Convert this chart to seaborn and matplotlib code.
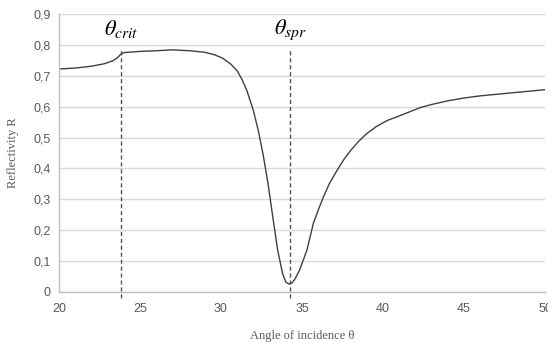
import matplotlib
matplotlib.use("Agg")
import matplotlib.pyplot as plt
import seaborn as sns
import pandas as pd

angle = [20, 21, 22, 22.8, 23.3, 23.6, 23.8, 24.0, 24.5, 25, 26, 27, 28.1, 29,
         29.6, 30.1, 30.6, 31.0, 31.3, 31.6, 32.0, 32.3, 32.6, 32.9, 33.2, 33.5,
         33.8, 34.0, 34.2, 34.4, 34.6, 34.85, 35.3, 35.7, 36.0, 36.3, 36.7, 37.2,
         37.6, 38.0, 38.5, 39.0, 39.6, 40.25, 41.05, 42.3, 43, 44, 45, 46, 47,
         48, 49, 50]
reflectivity = [0.722, 0.725, 0.731, 0.739, 0.748, 0.758, 0.769, 0.775, 0.777,
                0.779, 0.781, 0.784, 0.781, 0.776, 0.768, 0.757, 0.738, 0.716,
                0.688, 0.652, 0.587, 0.523, 0.445, 0.352, 0.242, 0.135, 0.060,
                0.032, 0.026, 0.030, 0.045, 0.071, 0.135, 0.222, 0.265, 0.305,
                0.352, 0.397, 0.430, 0.458, 0.488, 0.513, 0.536, 0.555, 0.571,
                0.597, 0.607, 0.619, 0.628, 0.635, 0.640, 0.645, 0.650, 0.655]
theta_crit = 23.83
theta_spr = 34.26
xticks = [20, 25, 30, 35, 40, 45, 50]
yticks = [0, 0.1, 0.2, 0.3, 0.4, 0.5, 0.6, 0.7, 0.8, 0.9]
ytick_labels = ["0", "0,1", "0,2", "0,3", "0,4", "0,5", "0,6", "0,7", "0,8", "0,9"]

sns.set_theme(style="white")
plt.rcParams["mathtext.fontset"] = "stix"

df = pd.DataFrame({"angle": angle, "R": reflectivity})

fig = plt.figure(figsize=(5.48, 3.42), dpi=100)
ax = fig.add_axes([59 / 548, 50 / 342, (545 - 59) / 548, (292 - 14) / 342])

sns.lineplot(data=df, x="angle", y="R", ax=ax, color="#404040", linewidth=1.0)

ax.set_xlim(20, 50)
ax.set_ylim(0, 0.9)
ax.set_xticks(xticks)
ax.set_yticks(yticks)
ax.set_yticklabels(ytick_labels)
ax.tick_params(axis="both", length=0, labelsize=9, colors="#595959")
ax.tick_params(axis="x", pad=8)
ax.tick_params(axis="y", pad=6)
for lab in ax.get_xticklabels() + ax.get_yticklabels():
    lab.set_family("Liberation Sans")

ax.yaxis.grid(True, color="#d9d9d9", linewidth=1.0)
ax.xaxis.grid(False)
ax.set_axisbelow(True)
for s in ["top", "right"]:
    ax.spines[s].set_visible(False)
for s in ["left", "bottom"]:
    ax.spines[s].set_color("#bfbfbf")
    ax.spines[s].set_linewidth(1.0)

for xv in (theta_crit, theta_spr):
    ax.plot([xv, xv], [-0.02, 0.79], linestyle=(0, (3, 2)), color="#555555",
            linewidth=1.0, clip_on=False)

ax.text(theta_crit, 0.85, r"$\theta_{crit}$", ha="center", va="center",
        fontsize=16, color="black")
ax.text(theta_spr, 0.85, r"$\theta_{spr}$", ha="center", va="center",
        fontsize=16, color="black")

ax.set_xlabel("Angle of incidence θ", family="Liberation Serif", fontsize=9,
              color="#595959", labelpad=11)
ax.set_ylabel("Reflectivity R", family="Liberation Serif", fontsize=9,
              color="#595959", labelpad=10)

fig.savefig("out.png", dpi=100)
